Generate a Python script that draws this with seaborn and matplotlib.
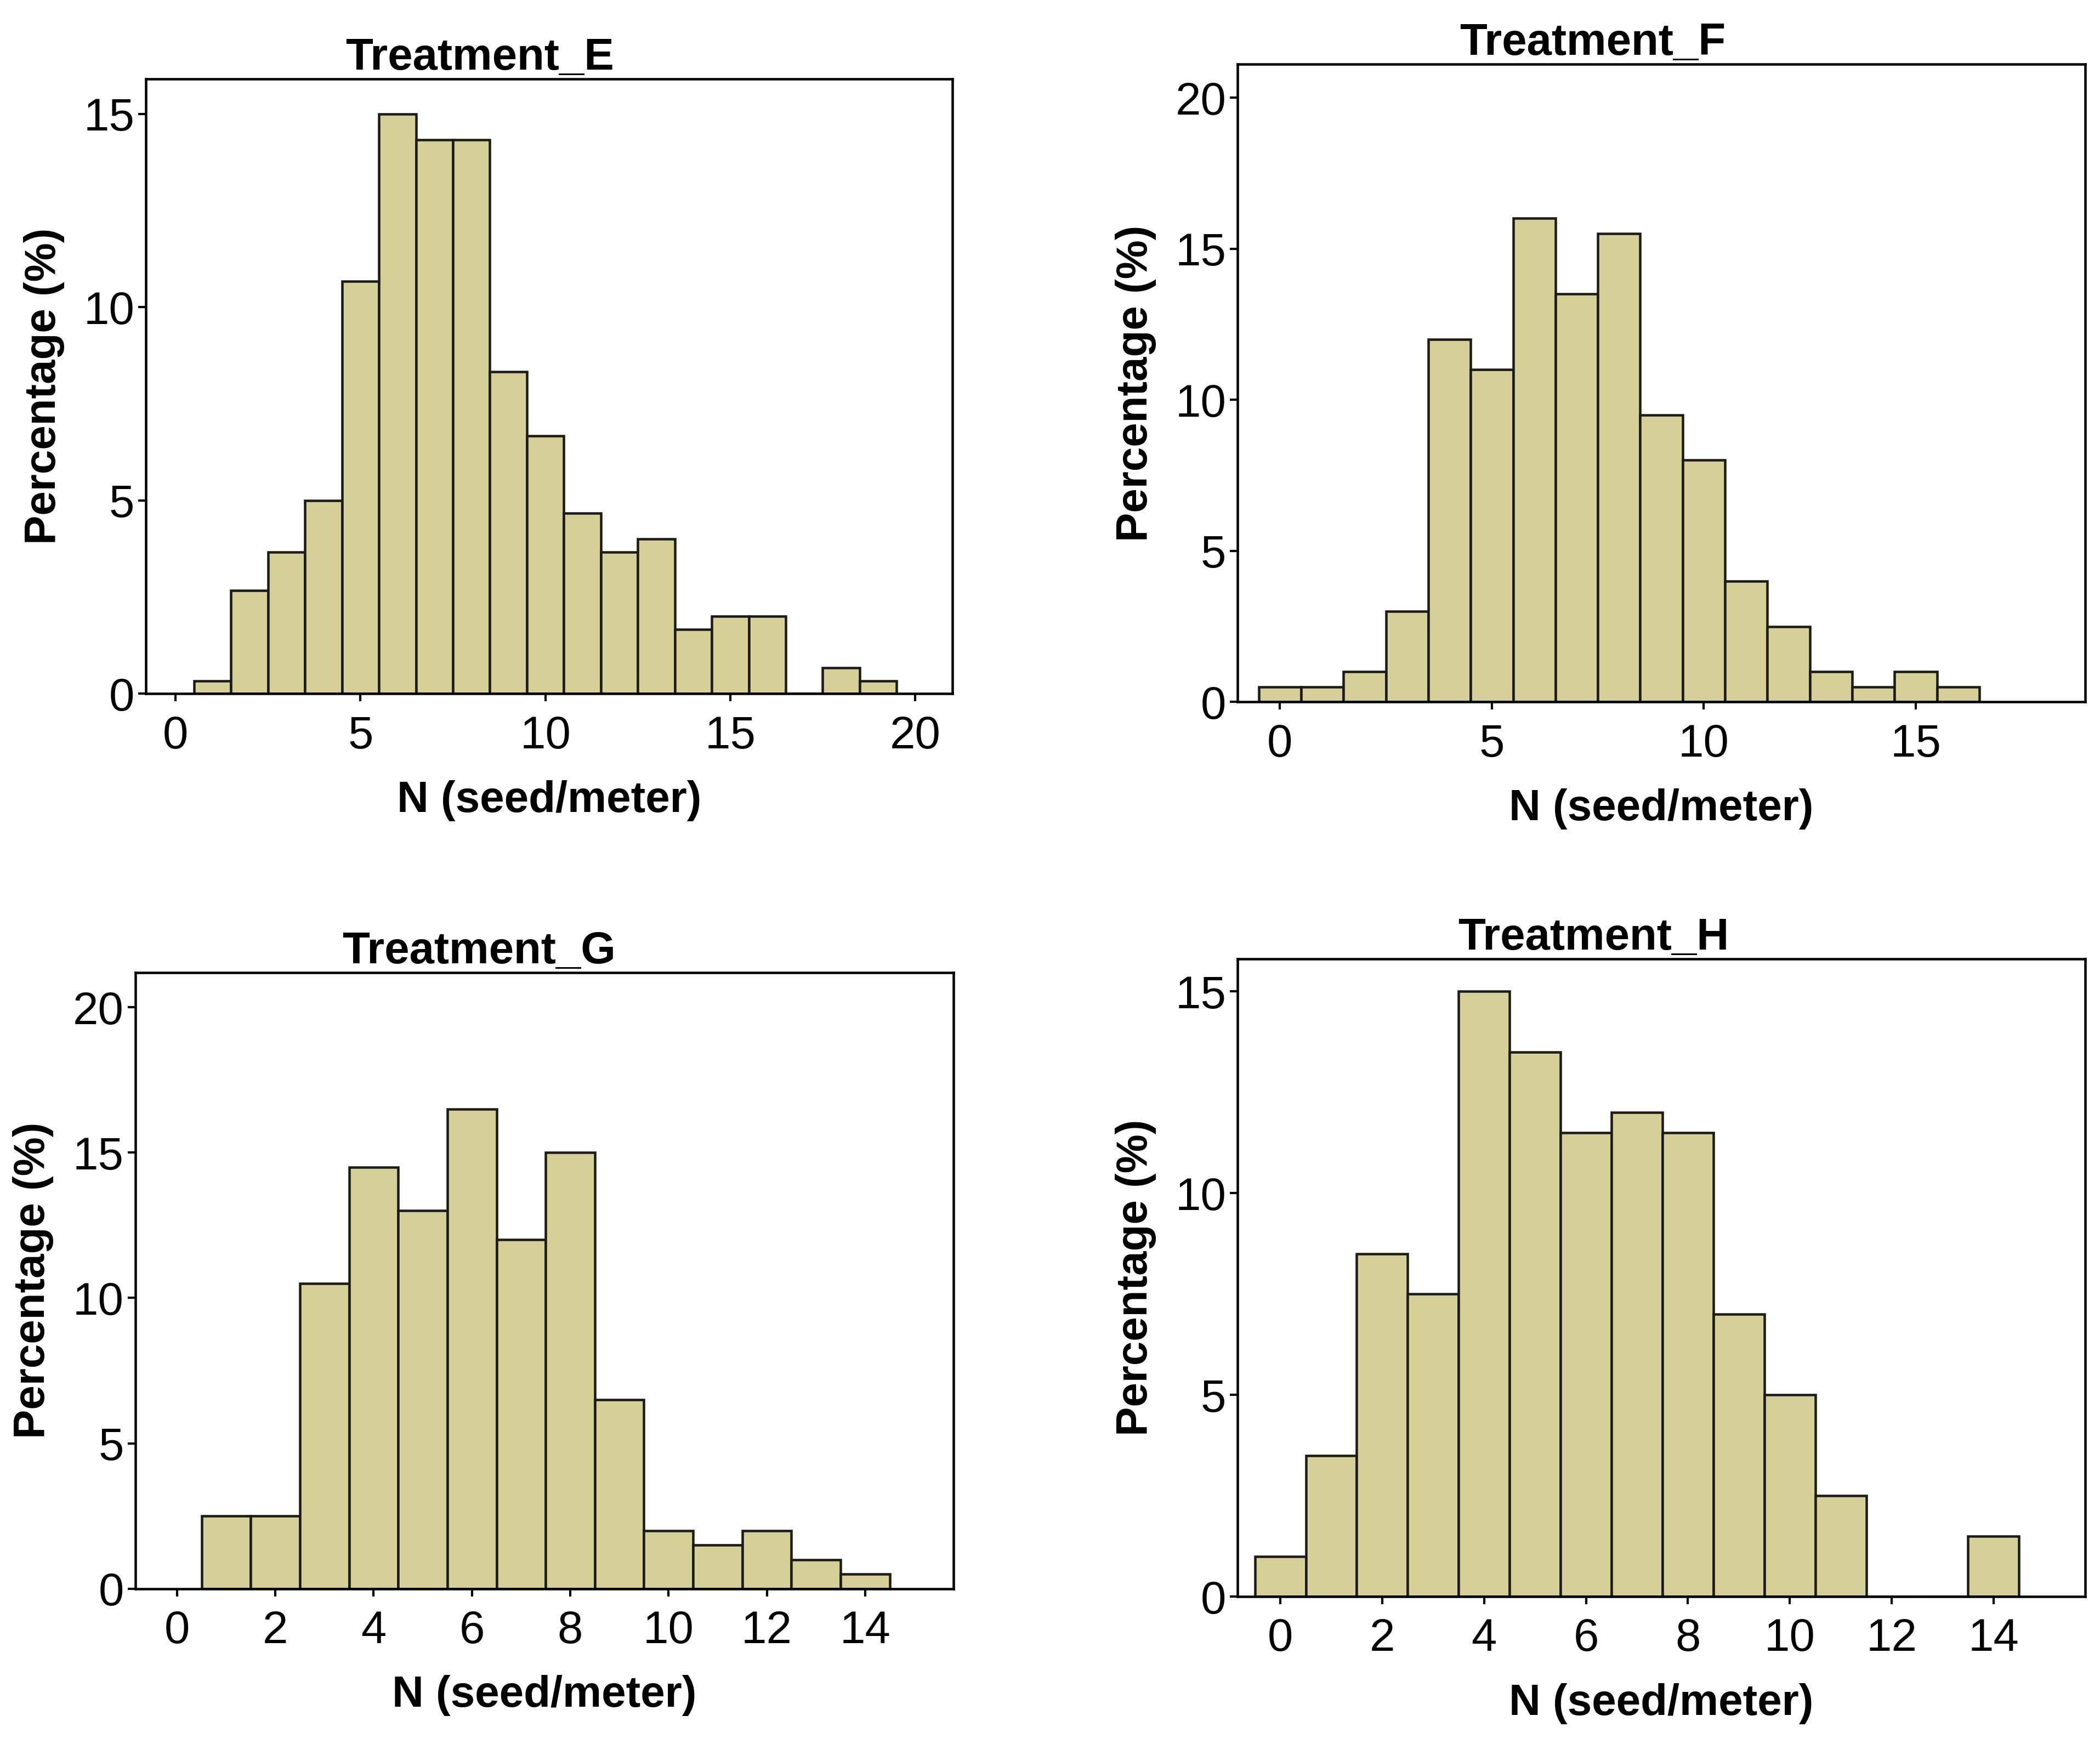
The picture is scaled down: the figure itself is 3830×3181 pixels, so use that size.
import matplotlib
matplotlib.use("Agg")
import matplotlib.pyplot as plt
import pandas as pd
import seaborn as sns

# --- data (bin centre, percentage) ---
e_centers = [1, 2, 3, 4, 5, 6, 7, 8, 9, 10, 11, 12, 13, 14, 15, 16, 18, 19]
e_pct = [0.33, 2.67, 3.67, 5.0, 10.67, 15.0, 14.33, 14.33, 8.33, 6.67,
         4.67, 3.67, 4.0, 1.67, 2.0, 2.0, 0.67, 0.33]

f_centers = [0, 1, 2, 3, 4, 5, 6, 7, 8, 9, 10, 11, 12, 13, 14, 15, 16]
f_pct = [0.5, 0.5, 1.0, 3.0, 12.0, 11.0, 16.0, 13.5, 15.5, 9.5, 8.0,
         4.0, 2.5, 1.0, 0.5, 1.0, 0.5]

g_centers = [1, 2, 3, 4, 5, 6, 7, 8, 9, 10, 11, 12, 13, 14]
g_pct = [2.5, 2.5, 10.5, 14.5, 13.0, 16.5, 12.0, 15.0, 6.5, 2.0, 1.5,
         2.0, 1.0, 0.5]

h_centers = [0, 1, 2, 3, 4, 5, 6, 7, 8, 9, 10, 11, 14]
h_pct = [1.0, 3.5, 8.5, 7.5, 15.0, 13.5, 11.5, 12.0, 11.5, 7.0, 5.0, 2.5, 1.5]

titles = ["Treatment_E", "Treatment_F", "Treatment_G", "Treatment_H"]
x_label = "N (seed/meter)"
y_label = "Percentage (%)"

BAR = "#D6CF97"
EDGE = "#1c1c14"

panels = [
    # centers, pct, xlim, ylim, xticks, yticks, axes rect, title x
    (e_centers, e_pct, (-0.8, 21.0), (0, 15.9), range(0, 21, 5), range(0, 16, 5),
     [0.0695, 0.6022, 0.3839, 0.3525], 0.414),
    (f_centers, f_pct, (-1.0, 19.0), (0, 21.1), range(0, 16, 5), range(0, 21, 5),
     [0.5893, 0.5975, 0.4037, 0.3656], 0.419),
    (g_centers, g_pct, (-0.85, 15.8), (0, 21.2), range(0, 15, 2), range(0, 21, 5),
     [0.0644, 0.0891, 0.3897, 0.3533], 0.42),
    (h_centers, h_pct, (-0.84, 15.8), (0, 15.8), range(0, 15, 2), range(0, 16, 5),
     [0.5893, 0.0845, 0.4037, 0.3656], 0.42),
]


def main() -> None:
    sns.set_style("ticks")
    plt.rcParams["font.family"] = ["Liberation Sans", "DejaVu Sans"]
    plt.rcParams["text.color"] = "black"
    plt.rcParams["axes.labelcolor"] = "black"
    plt.rcParams["xtick.color"] = "black"
    plt.rcParams["ytick.color"] = "black"

    fig = plt.figure(figsize=(15.32, 12.724), dpi=250)
    for title, (centers, pct, xlim, ylim, xt, yt, rect, tx) in zip(titles, panels):
        ax = fig.add_axes(rect)
        df = pd.DataFrame({"n": centers, "pct": pct})
        sns.histplot(data=df, x="n", weights="pct", discrete=True, color=BAR,
                     edgecolor=EDGE, linewidth=1.3, alpha=1, ax=ax)
        ax.set_xlim(*xlim)
        ax.set_ylim(*ylim)
        ax.set_xticks(list(xt))
        ax.set_yticks(list(yt))
        ax.tick_params(axis="both", direction="out", length=4, width=1.2,
                       labelsize=24, pad=2, color="black", labelcolor="black")
        ax.tick_params(axis="x", pad=7)
        for sp in ax.spines.values():
            sp.set_color("black")
            sp.set_linewidth(1.3)
        ax.set_title(title, fontsize=23.5, fontweight="bold", pad=4, x=tx, color="black")
        ax.set_xlabel(x_label, fontsize=23, fontweight="bold", labelpad=12, color="black")
        ax.set_ylabel(y_label, fontsize=23, fontweight="bold", labelpad=10, color="black")

    fig.savefig("out.png", dpi=250)
    plt.close(fig)


if __name__ == "__main__":
    main()
